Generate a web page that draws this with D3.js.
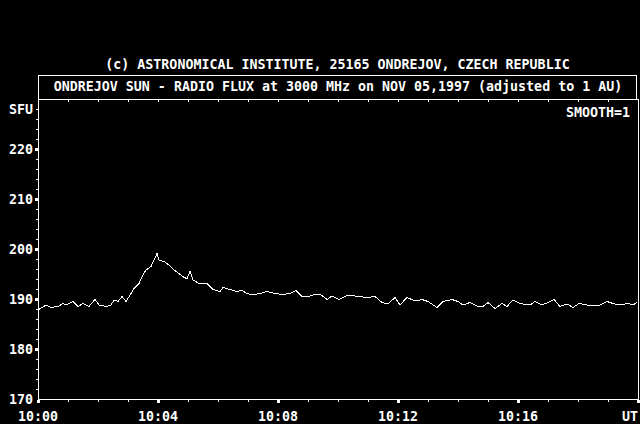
<!DOCTYPE html>
<html>
<head>
<meta charset="utf-8">
<script src="https://cdn.jsdelivr.net/npm/d3@7"></script>
<style>
    body { margin: 0; background: #000; }
    text { font-family: "DejaVu Sans Mono", monospace; font-weight: bold; font-size: 13.3px; fill: #fff; }
</style>
</head>
<body>
<div id="graph"></div>
<script>
var WIDTH = 640;
var HEIGHT = 424;

// seconds after 10:00:00 UT
var seconds = [0, 16, 26, 40, 50, 56, 70, 80, 90, 102, 114, 122, 136, 146, 152, 160, 168, 176, 186, 192,
    202, 210, 216, 226, 232, 238, 242, 252, 262, 272, 286, 292, 298, 304, 310, 324, 338, 350, 364, 370,
    384, 398, 408, 418, 428, 444, 458, 474, 490, 504, 516, 528, 540, 550, 564, 578, 588, 602, 620, 640,
    660, 674, 688, 700, 714, 724, 738, 754, 768, 780, 798, 810, 828, 840, 850, 864, 878, 890, 900, 914,
    928, 938, 950, 964, 984, 994, 1008, 1020, 1032, 1044, 1058, 1070, 1082, 1098, 1110, 1124, 1138, 1150, 1164, 1180,
    1190, 1198];

// flux in SFU
var flux = [187.8, 188.8, 188.3, 188.5, 189.1, 188.8, 189.5, 188.5, 189.1, 188.5, 189.9, 188.8, 188.5, 188.8, 189.8, 189.5, 190.5, 189.5, 191.1, 192.1,
    193.1, 194.8, 195.8, 196.5, 197.8, 199.1, 197.8, 197.5, 196.8, 195.8, 194.8, 194.3, 194.1, 195.5, 193.8, 193.0, 193.1, 191.9, 191.5, 192.3,
    191.9, 191.5, 191.7, 191.1, 190.8, 191.1, 191.5, 191.1, 190.9, 191.1, 191.7, 190.5, 190.5, 190.8, 191.0, 189.9, 190.6, 189.9, 190.8, 190.5,
    190.3, 190.5, 189.3, 189.0, 190.3, 188.8, 190.3, 189.6, 189.9, 189.5, 188.3, 189.5, 189.9, 189.5, 188.8, 189.3, 188.6, 188.5, 189.3, 188.1,
    189.1, 188.5, 189.8, 189.1, 188.8, 189.5, 188.8, 189.3, 189.9, 188.5, 189.0, 188.3, 189.1, 188.8, 188.6, 188.8, 189.5, 189.1, 188.8, 189.1,
    188.8, 189.3];

var yTicks = [170, 180, 190, 200, 210, 220];
var xTickLabels = ["10:00", "10:04", "10:08", "10:12", "10:16"];

var svg = d3.select("#graph").append("svg")
    .attr("width", WIDTH)
    .attr("height", HEIGHT)
    .style("background", "#000");

var x = d3.scaleLinear().domain([0, 1200]).range([38, 638]);
var y = d3.scaleLinear().domain([170, 230]).range([399, 99]);

var white = "#fff";

// titles
svg.append("text")
    .attr("x", 337.5)
    .attr("y", 69)
    .attr("text-anchor", "middle")
    .text("(c) ASTRONOMICAL INSTITUTE, 25165 ONDREJOV, CZECH REPUBLIC");

svg.append("rect")
    .attr("x", 38.5)
    .attr("y", 75.5)
    .attr("width", 598)
    .attr("height", 24)
    .attr("fill", "none")
    .attr("stroke", white);

svg.append("text")
    .attr("x", 338)
    .attr("y", 91)
    .attr("text-anchor", "middle")
    .text("ONDREJOV SUN - RADIO FLUX at 3000 MHz on NOV 05,1997 (adjusted to 1 AU)");

// frame
var frame = svg.append("g")
    .attr("stroke", white)
    .attr("shape-rendering", "crispEdges");

frame.append("line").attr("x1", 38.5).attr("x2", 38.5).attr("y1", 99.5).attr("y2", 399.5);
frame.append("line").attr("x1", 38.5).attr("x2", 638.5).attr("y1", 399.5).attr("y2", 399.5);
frame.append("line").attr("x1", 38.5).attr("x2", 638.5).attr("y1", 99.5).attr("y2", 99.5);
frame.append("line").attr("x1", 638.5).attr("x2", 638.5).attr("y1", 99.5).attr("y2", 399.5);

// minor ticks
var minuteTicks = d3.range(60, 1200, 60);
frame.selectAll(".xminor")
    .data(minuteTicks)
    .enter().append("line")
    .attr("x1", function(d) { return Math.round(x(d)) + 0.5; })
    .attr("x2", function(d) { return Math.round(x(d)) + 0.5; })
    .attr("y1", 400)
    .attr("y2", 402);

frame.selectAll(".xtop")
    .data(minuteTicks)
    .enter().append("line")
    .attr("x1", function(d) { return Math.round(x(d)) + 0.5; })
    .attr("x2", function(d) { return Math.round(x(d)) + 0.5; })
    .attr("y1", 100)
    .attr("y2", 102);

frame.selectAll(".yminor")
    .data(d3.range(172, 230, 2))
    .enter().append("line")
    .attr("x1", 36)
    .attr("x2", 38)
    .attr("y1", function(d) { return Math.round(y(d)) + 0.5; })
    .attr("y2", function(d) { return Math.round(y(d)) + 0.5; });

// major ticks (small squares)
svg.selectAll(".xmajor")
    .data(d3.range(0, 1201, 240))
    .enter().append("rect")
    .attr("x", function(d) { return Math.round(x(d)) - 1; })
    .attr("y", 400)
    .attr("width", 3)
    .attr("height", 3)
    .attr("fill", white);

svg.selectAll(".ymajor")
    .data(yTicks.slice(1))
    .enter().append("rect")
    .attr("x", 35)
    .attr("y", function(d) { return Math.round(y(d)) - 1; })
    .attr("width", 3)
    .attr("height", 3)
    .attr("fill", white);

// labels
svg.selectAll(".ylabel")
    .data(yTicks)
    .enter().append("text")
    .attr("x", 33)
    .attr("y", function(d) { return y(d) + 5; })
    .attr("text-anchor", "end")
    .text(function(d) { return d; });

svg.append("text")
    .attr("x", 33)
    .attr("y", 114)
    .attr("text-anchor", "end")
    .text("SFU");

svg.selectAll(".xlabel")
    .data(xTickLabels)
    .enter().append("text")
    .attr("x", function(d, i) { return x(i * 240); })
    .attr("y", 421)
    .attr("text-anchor", "middle")
    .text(function(d) { return d; });

svg.append("text")
    .attr("x", 638)
    .attr("y", 421)
    .attr("text-anchor", "end")
    .text("UT");

svg.append("text")
    .attr("x", 630)
    .attr("y", 117)
    .attr("text-anchor", "end")
    .text("SMOOTH=1");

// flux curve
var points = seconds.map(function(s, i) { return [s, flux[i]]; });

var line = d3.line()
    .x(function(d) { return x(d[0]); })
    .y(function(d) { return y(d[1]); });

svg.append("path")
    .datum(points)
    .attr("d", line)
    .attr("fill", "none")
    .attr("stroke", white)
    .attr("stroke-width", 1)
    .attr("shape-rendering", "crispEdges");
</script>
</body>
</html>
